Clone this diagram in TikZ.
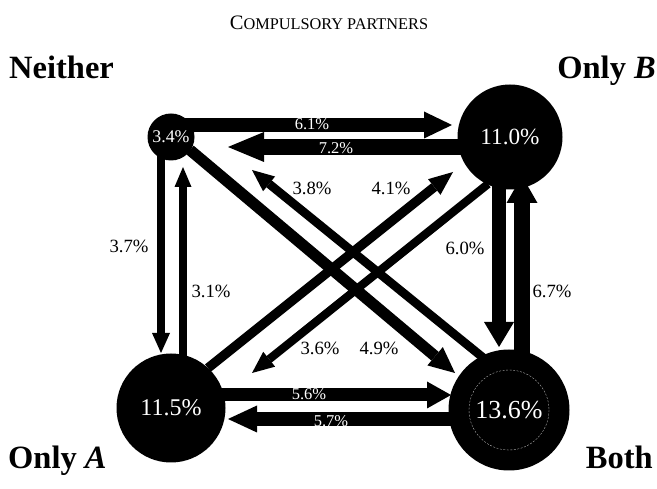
\documentclass[tikz,border=0pt]{standalone}
\usepackage{fontspec}
\setmainfont{Liberation Serif}
\usetikzlibrary{arrows.meta}
\pgfdeclarelayer{background}
\pgfsetlayers{background,main}
\tikzset{
  state/.style={circle,fill=black,text=white,inner sep=0pt,draw=none},
  flw/.style n args={3}{draw=black,line width=#1pt,-{Triangle[width=#2pt,length=#3pt,line width=0pt]}},
  wlab/.style={text=white,inner sep=0pt,font=\fontsize{16.5}{16}\selectfont},
  blab/.style={text=black,inner sep=0pt,font=\fontsize{18.7}{19}\selectfont},
  corner/.style={inner sep=0pt,font=\fontsize{32.5}{33}\selectfont\bfseries},
}
\begin{document}
\begin{tikzpicture}[x=1pt,y=-1pt]
\useasboundingbox (0,0) rectangle (657,489);
% title
\node[inner sep=0pt,anchor=base] (title) at (329,30)
  {{\fontsize{20.5}{20}\selectfont C}{\fontsize{16.3}{16}\selectfont OMPULSORY PARTNERS}};
% corner labels
\node[corner,anchor=base west] (lN) at (9,79) {Neither};
\node[corner,anchor=base east] (lB) at (656,79) {Only \textit{B}};
\node[corner,anchor=base west] (lA) at (8,468) {Only \textit{A}};
\node[corner,anchor=base east] (lX) at (653,468) {Both};
% states
\node[state,minimum size=47pt,font=\fontsize{17.8}{18}\selectfont] (N) at (171,137) {3.4\%};
\node[state,minimum size=105pt,font=\fontsize{23.2}{23}\selectfont] (B) at (510,137) {11.0\%};
\node[state,minimum size=109pt,font=\fontsize{24}{24}\selectfont] (A) at (171,408) {11.5\%};
\node[state,minimum size=121pt,font=\fontsize{26}{26}\selectfont] (X) at (509,410) {13.6\%};
\draw[gray!55,line width=0.35pt,dash pattern=on 2pt off 1.5pt] (X.center) circle (40);
% arrow end points
\coordinate (nb1) at (182,125); \coordinate (nb2) at (452,125);
\coordinate (bn1) at (470,147); \coordinate (bn2) at (228,147);
\coordinate (na1) at (161,150); \coordinate (na2) at (161,353);
\coordinate (an1) at (183,360); \coordinate (an2) at (183,167);
\coordinate (bx1) at (499,180); \coordinate (bx2) at (499,347);
\coordinate (xb1) at (522,360); \coordinate (xb2) at (522,176);
\coordinate (ax1) at (215,395); \coordinate (ax2) at (451,395);
\coordinate (xa1) at (460,419); \coordinate (xa2) at (228,419);
\coordinate (nx1) at (190,150); \coordinate (nx2) at (455,373);
\coordinate (xn1) at (486,360); \coordinate (xn2) at (252,170);
\coordinate (ab1) at (208,368); \coordinate (ab2) at (453,172);
\coordinate (ba1) at (488,184); \coordinate (ba2) at (252,373);
\begin{pgfonlayer}{background}
\draw[flw={14}{27}{28}] (nb1) -- (nb2);
\draw[flw={16.5}{30}{36}] (bn1) -- (bn2);
\draw[flw={8.5}{18}{20}] (na1) -- (na2);
\draw[flw={7.1}{17}{20}] (an1) -- (an2);
\draw[flw={14.5}{30}{25}] (bx1) -- (bx2);
\draw[flw={16}{31}{27}] (xb1) -- (xb2);
\draw[flw={13}{27}{24}] (ax1) -- (ax2);
\draw[flw={13.1}{27}{29}] (xa1) -- (xa2);
\draw[flw={11.3}{24}{26}] (nx1) -- (nx2);
\draw[flw={8.7}{19}{22}] (xn1) -- (xn2);
\draw[flw={9.4}{20}{24}] (ab1) -- (ab2);
\draw[flw={8.3}{19}{22}] (ba1) -- (ba2);
\end{pgfonlayer}
% labels
\node[wlab] (t61) at (312,124) {6.1\%};
\node[wlab] (t72) at (336,148) {7.2\%};
\node[wlab] (t56) at (309,394) {5.6\%};
\node[wlab] (t57) at (331,421) {5.7\%};
\node[blab] (t37) at (129,246) {3.7\%};
\node[blab] (t31) at (211,291) {3.1\%};
\node[blab] (t60) at (465,248) {6.0\%};
\node[blab] (t67) at (552,291) {6.7\%};
\node[blab] (t38) at (312,188) {3.8\%};
\node[blab] (t41) at (391,188) {4.1\%};
\node[blab] (t36) at (320,348) {3.6\%};
\node[blab] (t49) at (379,348) {4.9\%};
\end{tikzpicture}
\end{document}
